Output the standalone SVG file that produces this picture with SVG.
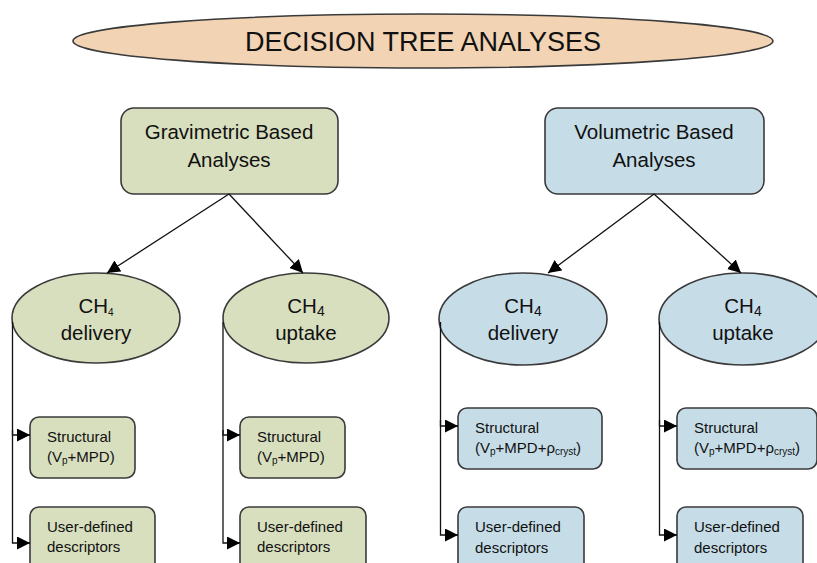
<svg xmlns="http://www.w3.org/2000/svg" width="817" height="563" viewBox="0 0 817 563">
<defs>
<marker id="ah" markerUnits="userSpaceOnUse" markerWidth="13" markerHeight="13" refX="13" refY="6.5" orient="auto">
<path d="M0,0 L13,6.5 L0,13 z" fill="#000"/>
</marker>
<style>
text{font-family:"Liberation Sans",Arial,sans-serif;fill:#111}
.g{fill:#d8dfbf;stroke:#3a3a3a;stroke-width:1.6}
.b{fill:#c6dde8;stroke:#3a3a3a;stroke-width:1.6}
.t{fill:#f2d3b3;stroke:#3a3a3a;stroke-width:1.6}
.big{font-size:20.5px}
.sm{font-size:15px}
.sub{font-size:10px}
.c line,.c polyline{stroke:#111;stroke-width:1.3;fill:none;marker-end:url(#ah)}
</style>
</defs>
<rect width="817" height="563" fill="#fff"/>
<g id="title">
<ellipse class="t" cx="423" cy="41" rx="350" ry="27"/>
<text x="423" y="51" text-anchor="middle" font-size="27">DECISION TREE ANALYSES</text>
</g>
<g id="grav">
<rect class="g" x="121" y="108" width="217" height="86" rx="13"/>
<text class="big" x="229" y="139" text-anchor="middle">Gravimetric Based</text>
<text class="big" x="229" y="167" text-anchor="middle">Analyses</text>
</g>
<g id="vol">
<rect class="b" x="545" y="108" width="219" height="86" rx="13"/>
<text class="big" x="654" y="139" text-anchor="middle">Volumetric Based</text>
<text class="big" x="654" y="167" text-anchor="middle">Analyses</text>
</g>
<g id="g-delivery">
<ellipse class="g" cx="96" cy="318" rx="84" ry="45"/>
<text class="big" x="96" y="313" text-anchor="middle">CH<tspan class="sub" font-size="14" dy="3">4</tspan></text>
<text class="big" x="96" y="340" text-anchor="middle">delivery</text>
</g>
<g id="g-uptake">
<ellipse class="g" cx="306" cy="318" rx="83" ry="45"/>
<text class="big" x="306" y="313" text-anchor="middle">CH<tspan font-size="14" dy="3">4</tspan></text>
<text class="big" x="306" y="340" text-anchor="middle">uptake</text>
</g>
<g id="v-delivery">
<ellipse class="b" cx="523" cy="319" rx="84" ry="46"/>
<text class="big" x="523" y="313" text-anchor="middle">CH<tspan font-size="14" dy="3">4</tspan></text>
<text class="big" x="523" y="340" text-anchor="middle">delivery</text>
</g>
<g id="v-uptake">
<ellipse class="b" cx="743" cy="319" rx="84" ry="46"/>
<text class="big" x="743" y="313" text-anchor="middle">CH<tspan font-size="14" dy="3">4</tspan></text>
<text class="big" x="743" y="340" text-anchor="middle">uptake</text>
</g>
<g id="g-d-struct">
<rect class="g" x="30" y="417" width="105" height="61" rx="9"/>
<text class="sm" x="47" y="442">Structural</text>
<text class="sm" x="47" y="462">(V<tspan class="sub" dy="2">p</tspan><tspan dy="-2">+MPD)</tspan></text>
</g>
<g id="g-d-user">
<rect class="g" x="30" y="507" width="125" height="70" rx="9"/>
<text class="sm" x="47" y="532">User-defined</text>
<text class="sm" x="47" y="552">descriptors</text>
</g>
<g id="g-u-struct">
<rect class="g" x="240" y="417" width="105" height="61" rx="9"/>
<text class="sm" x="257" y="442">Structural</text>
<text class="sm" x="257" y="462">(V<tspan class="sub" dy="2">p</tspan><tspan dy="-2">+MPD)</tspan></text>
</g>
<g id="g-u-user">
<rect class="g" x="240" y="507" width="126" height="70" rx="9"/>
<text class="sm" x="257" y="532">User-defined</text>
<text class="sm" x="257" y="552">descriptors</text>
</g>
<g id="v-d-struct">
<rect class="b" x="458" y="408" width="144" height="61" rx="9"/>
<text class="sm" x="475" y="433">Structural</text>
<text class="sm" x="475" y="453">(V<tspan class="sub" dy="2">p</tspan><tspan dy="-2">+MPD+ρ</tspan><tspan class="sub" dy="2">cryst</tspan><tspan dy="-2">)</tspan></text>
</g>
<g id="v-d-user">
<rect class="b" x="458" y="507" width="126" height="70" rx="9"/>
<text class="sm" x="475" y="532">User-defined</text>
<text class="sm" x="475" y="553">descriptors</text>
</g>
<g id="v-u-struct">
<rect class="b" x="677" y="408" width="140" height="61" rx="9"/>
<text class="sm" x="694" y="433">Structural</text>
<text class="sm" x="694" y="453">(V<tspan class="sub" dy="2">p</tspan><tspan dy="-2">+MPD+ρ</tspan><tspan class="sub" dy="2">cryst</tspan><tspan dy="-2">)</tspan></text>
</g>
<g id="v-u-user">
<rect class="b" x="677" y="507" width="126" height="70" rx="9"/>
<text class="sm" x="694" y="532">User-defined</text>
<text class="sm" x="694" y="553">descriptors</text>
</g>
<g id="connectors" class="c">
<line x1="229" y1="194" x2="107" y2="273"/>
<line x1="229" y1="194" x2="303" y2="273"/>
<line x1="654" y1="194" x2="548" y2="273"/>
<line x1="654" y1="194" x2="741" y2="273"/>
<polyline points="12.5,322 12.5,435 30,435"/>
<polyline points="12.5,430 12.5,543 30,543"/>
<polyline points="223,322 223,435 240,435"/>
<polyline points="223,430 223,543 240,543"/>
<polyline points="440.5,322 440.5,426 458,426"/>
<polyline points="440.5,420 440.5,535 458,535"/>
<polyline points="659.5,322 659.5,426 677,426"/>
<polyline points="659.5,420 659.5,535 677,535"/>
</g>
</svg>
